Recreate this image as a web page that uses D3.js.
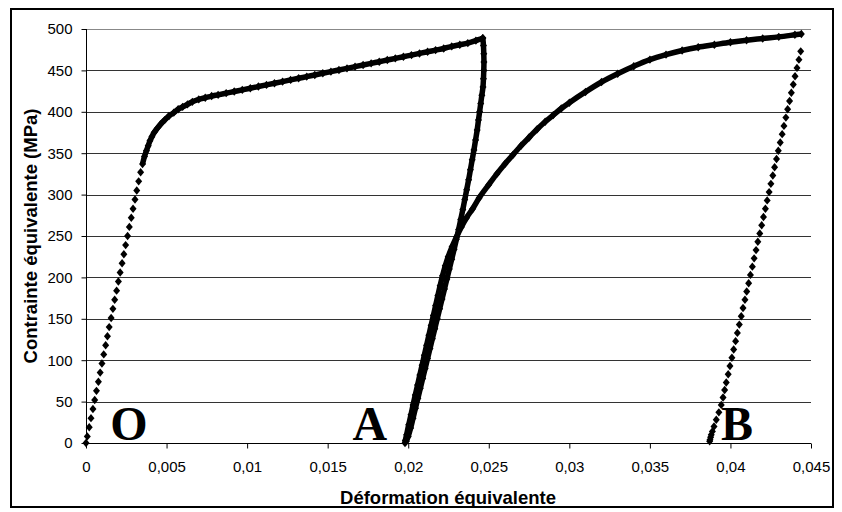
<!DOCTYPE html>
<html><head><meta charset="utf-8">
<script src="https://cdn.jsdelivr.net/npm/d3@7"></script>
<style>body{margin:0;background:#fff}svg{display:block}</style>
</head><body><svg id="c" width="842" height="512"></svg>
<script>
// ---- data: [strain, stress MPa] ----
const loadO = [[0,0],[0.00008,8],[0.0002,19],[0.00031,30],[0.00043,41],[0.00054,52],[0.00065,63],[0.00077,74],[0.00088,85],[0.00099,96],[0.0011,107],[0.00122,118],[0.00133,129],[0.00144,140],[0.00156,151],[0.00167,162],[0.00178,173],[0.0019,184],[0.00201,195],[0.00212,206],[0.00224,217],[0.00235,228],[0.00246,239],[0.00258,250],[0.00269,261],[0.00281,272],[0.00292,283],[0.00304,294],[0.00315,305],[0.00327,316],[0.00339,327],[0.00351,337],[0.00363,346],[0.00375,353],[0.00386,359],[0.00397,365],[0.00409,370],[0.00423,375],[0.00442,380],[0.00463,385],[0.00488,390],[0.00515,395],[0.00545,399],[0.00572,403],[0.006,406],[0.0063,409],[0.0066,412],[0.007,415],[0.0074,417],[0.0078,419],[0.0082,420.5],[0.0087,422.5],[0.0092,424.5],[0.0097,426.5],[0.0102,428.5],[0.0107,430.5],[0.0112,432.5],[0.0117,434.5],[0.0122,436.5],[0.0127,438.5],[0.0132,440.5],[0.0137,442.5],[0.0142,444.5],[0.0147,446.5],[0.0152,448.5],[0.0157,450.5],[0.0162,452.5],[0.0167,454.5],[0.0172,456.5],[0.0177,458.5],[0.0182,460.5],[0.0187,462.5],[0.0192,464.5],[0.0197,466.5],[0.0202,468.5],[0.0207,470.5],[0.0212,472.5],[0.0217,474.5],[0.0222,476.5],[0.0227,479],[0.0232,481],[0.0237,483],[0.0242,486],[0.02463,489]];
const unloadA = [[0.02463,489],[0.02467,480],[0.02469,470],[0.0247,460],[0.02469,450],[0.02467,440],[0.02464,430],[0.02457,420],[0.0245,410],[0.02443,400],[0.02436,390],[0.02428,378],[0.02418,366],[0.02408,354],[0.02397,342],[0.02386,330],[0.02375,318],[0.02363,306],[0.02351,294],[0.02339,282],[0.02326,270],[0.02313,258],[0.02299,246],[0.02285,234],[0.0227,222],[0.02255,210],[0.0224,198],[0.02225,186],[0.0221,174],[0.02195,162],[0.0218,150],[0.02165,138],[0.0215,126],[0.02135,114],[0.0212,102],[0.02105,90],[0.0209,78],[0.02075,66],[0.0206,54],[0.02045,42],[0.0203,30],[0.02015,18],[0.02,8],[0.01988,2]];
const reloadA = [[0.0198,0],[0.01982,3],[0.0199,10],[0.02003,22],[0.02017,34],[0.0203,46],[0.02044,58],[0.02058,70],[0.02072,82],[0.02086,94],[0.021,106],[0.02114,118],[0.02128,130],[0.02142,142],[0.02156,154],[0.0217,166],[0.02184,178],[0.02198,190],[0.02213,202],[0.0223,214],[0.02248,225],[0.02272,237],[0.023,249],[0.0233,261],[0.02362,272],[0.024,283],[0.0244,296],[0.025,312],[0.0255,325],[0.026,337],[0.0265,348],[0.027,359],[0.0275,369],[0.028,379],[0.0285,388],[0.029,396],[0.0295,404],[0.03,411],[0.031,424],[0.032,436],[0.033,446],[0.034,455],[0.035,463],[0.036,469],[0.037,474],[0.038,478],[0.039,481],[0.04,484],[0.041,486.5],[0.042,488.5],[0.043,490.5],[0.044,493],[0.0444,494]];
const unloadB = [[0.04436,473],[0.04425,463],[0.04413,453],[0.04401,443],[0.0439,433],[0.04378,423],[0.04367,413],[0.04355,403],[0.04344,393],[0.04332,383],[0.04321,373],[0.04309,363],[0.04297,353],[0.04286,343],[0.04274,333],[0.04263,323],[0.04251,313],[0.0424,303],[0.04228,293],[0.04217,283],[0.04205,273],[0.04194,263],[0.04182,253],[0.0417,243],[0.04159,233],[0.04147,223],[0.04136,213],[0.04124,203],[0.04113,193],[0.04101,183],[0.0409,173],[0.04078,163],[0.04067,153],[0.04055,143],[0.04043,133],[0.04032,123],[0.0402,113],[0.04009,103],[0.03997,93],[0.03986,83],[0.03974,73],[0.03964,64],[0.03954,55],[0.03943,46],[0.03928,37],[0.03912,28],[0.03898,20],[0.03888,14],[0.03881,10],[0.03877,7],[0.03873,4],[0.03871,2]];
const xTicks = [0,0.005,0.01,0.015,0.02,0.025,0.03,0.035,0.04,0.045];
const xTickLabels = ["0","0,005","0,01","0,015","0,02","0,025","0,03","0,035","0,04","0,045"];
const yTicks = [0,50,100,150,200,250,300,350,400,450,500];
const xTitle = "Déformation équivalente";
const yTitle = "Contrainte équivalente (MPa)";
const pointNames = ["O","A","B"];

// ---- drawing ----
const svg = d3.select("#c");
svg.append("rect").attr("x",0).attr("y",0).attr("width",842).attr("height",512).attr("fill","#fff");
svg.append("rect").attr("x",11).attr("y",9).attr("width",822).attr("height",498)
  .attr("fill","none").attr("stroke","#000").attr("stroke-width",2);

const x = d3.scaleLinear().domain([0,0.045]).range([86,811]);
const y = d3.scaleLinear().domain([0,500]).range([443,29]);

// gridlines
svg.append("g").selectAll("line").data(yTicks).join("line")
  .attr("x1",86).attr("x2",811).attr("y1",d=>Math.round(y(d))+0.5).attr("y2",d=>Math.round(y(d))+0.5)
  .attr("stroke",d=>d===500?"#888":"#333").attr("stroke-width",1);

const fnt = "'Liberation Sans', Arial, sans-serif";
const yAxis = svg.append("g").attr("transform","translate(86.5,0)")
  .call(d3.axisLeft(y).tickValues(yTicks).tickSize(5).tickPadding(9).tickFormat(d=>String(d)));
const xAxis = svg.append("g").attr("transform",`translate(0,${Math.round(y(0))+0.5})`)
  .call(d3.axisBottom(x).tickValues(xTicks).tickSize(5).tickPadding(13).tickFormat((d,i)=>xTickLabels[i]));
[yAxis,xAxis].forEach(g=>{
  g.select(".domain").attr("stroke","#000");
  g.selectAll(".tick line").attr("stroke","#000");
  g.selectAll("text").attr("font-family",fnt).attr("font-size",15).attr("fill","#000");
});
xAxis.select(".domain").attr("d",`M86,0H811`);
yAxis.select(".domain").attr("d",`M0,${y(500)}V${y(0)}`);

// titles
svg.append("text").attr("x",448).attr("y",504).attr("text-anchor","middle")
  .attr("font-family",fnt).attr("font-weight","bold").attr("font-size",18.5).text(xTitle);
svg.append("text").attr("transform",`translate(37,${(y(0)+y(500))/2}) rotate(-90)`).attr("text-anchor","middle")
  .attr("font-family",fnt).attr("font-weight","bold").attr("font-size",18.5).text(yTitle);

// series
const line = d3.line().x(d=>x(d[0])).y(d=>y(d[1])).curve(d3.curveCatmullRom);
const dense = [loadO.filter(d=>d[1]>=335), unloadA, reloadA];
svg.append("g").selectAll("path").data(dense).join("path")
  .attr("d",line).attr("fill","none").attr("stroke","#000").attr("stroke-width",5.5).attr("stroke-linejoin","round");
const diamond = {draw(ctx){ ctx.moveTo(0,-4.2); ctx.lineTo(3.5,0); ctx.lineTo(0,4.2); ctx.lineTo(-3.5,0); ctx.closePath(); }};
const sym = d3.symbol().type(diamond);
[loadO, unloadA, reloadA, unloadB].forEach(s=>{
  svg.append("g").selectAll("path").data(s).join("path")
    .attr("transform",d=>`translate(${x(d[0])},${y(d[1])})`).attr("d",sym).attr("fill","#000");
});

// point names
const nameAt = [0.00267,0.01762,0.0404];
svg.append("g").selectAll("text").data(pointNames).join("text")
  .attr("x",(d,i)=>x(nameAt[i])).attr("y",y(0)-3).attr("text-anchor","middle")
  .attr("font-family","'Liberation Serif','Times New Roman',serif").attr("font-weight","bold").attr("font-size",48)
  .text(d=>d);
</script></body></html>
